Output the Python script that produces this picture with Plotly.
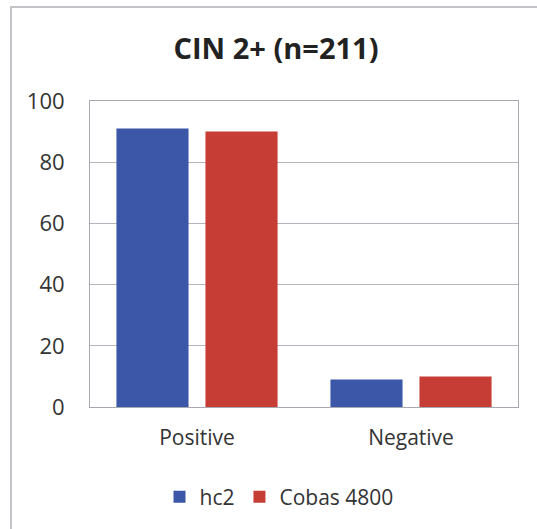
import plotly.graph_objects as go

categories = ["Positive", "Negative"]
hc2 = [91, 9]
cobas = [90, 10]
series_names = ["hc2", "Cobas 4800"]
y_ticks = [0, 20, 40, 60, 80, 100]

W, H = 537, 529
L, R, T, B = 90, 19, 101, 122
pw, ph = W - L - R, H - T - B

def px_x(px):
    return (px - L) / pw

def px_y(py):
    return (H - B - py) / ph

FONT = "Open Sans"
fig = go.Figure()
fig.add_trace(go.Bar(x=categories, y=hc2, name=series_names[0], marker=dict(color="#3C57A8", line=dict(width=0))))
fig.add_trace(go.Bar(x=categories, y=cobas, name=series_names[1], marker=dict(color="#C53D35", line=dict(width=0))))

fig.update_layout(
    width=W, height=H,
    margin=dict(l=L, r=R, t=T, b=B),
    paper_bgcolor="white", plot_bgcolor="white",
    barmode="group", bargap=0.168, bargroupgap=0.19,
    title=dict(text="<b>CIN 2+ (n=211)</b>", x=276 / W, xref="container", xanchor="center",
               y=1 - 49 / H, yanchor="middle", font=dict(family=FONT, size=29, color="#222222")),
    font=dict(family=FONT, size=21, color="#333333"),
    showlegend=True,
    legend=dict(orientation="h", x=px_x(279), xanchor="center", y=px_y(497), yanchor="middle",
                font=dict(family=FONT, size=21, color="#333333"), itemwidth=30, traceorder="normal"),
    xaxis=dict(showgrid=False, showline=True, linecolor="#a8a8b0", linewidth=1, mirror=True,
               ticks="", tickfont=dict(size=21), ticklabelstandoff=12),
    yaxis=dict(range=[0, 100], tickvals=y_ticks, showgrid=True, gridcolor="#b4b4bc", gridwidth=1,
               showline=True, linecolor="#a8a8b0", linewidth=1, mirror=True, zeroline=False,
               ticks="", tickfont=dict(size=22), ticklabelstandoff=20),
    shapes=[dict(type="rect", xref="paper", yref="paper",
                 x0=px_x(11), x1=px_x(545), y0=px_y(540), y1=px_y(7),
                 line=dict(color="#c4c4c8", width=2), layer="below")],
)

fig.write_html("out.html")
